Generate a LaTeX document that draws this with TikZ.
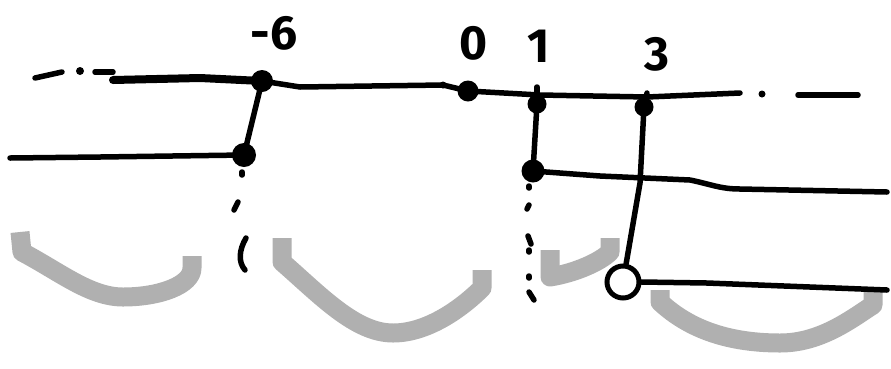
\documentclass[tikz,border=0pt]{standalone}
\usepackage{fontspec}
\setmainfont{Fira Sans}
\definecolor{hlgray}{HTML}{B0B0B0}
\begin{document}
\begin{tikzpicture}[x=1pt,y=-1pt,
  ink/.style={line width=5.5pt, line cap=round, line join=round},
  hl/.style={line width=19pt, color=hlgray, line cap=butt, line join=round},
  fdot/.style={circle, fill=black, inner sep=0pt, minimum size=#1},
  odot/.style={circle, draw=black, line width=5pt, fill=white, inner sep=0pt, minimum size=#1},
  lbl/.style={font=\fontsize{48}{48}\selectfont\bfseries, inner sep=0pt}]
\useasboundingbox[fill=white] (0,0) rectangle (891,368);

% gray highlight curves
\draw[hl] (20,232) -- (22,252) .. controls (60,272) and (90,297) .. (123,297)
  .. controls (160,297) and (192,285) .. (192,268) -- (192,256);
\draw[hl] (282,238) -- (282,262) .. controls (320,295) and (355,333) .. (393,333)
  .. controls (430,333) and (465,305) .. (482,288) -- (482,270);
\draw[hl] (550,250) -- (550,277) .. controls (575,273) and (600,262) .. (610,252) -- (610,238);
\draw[hl] (660,290) -- (660,302) .. controls (690,330) and (730,343) .. (780,343)
  .. controls (820,343) and (850,320) .. (873,305) -- (873,292);

% nodes
\node[fdot=22] (n6) at (262,81) {};
\node[fdot=24] (n6b) at (244,155) {};
\node[fdot=21] (n0) at (468,91) {};
\node[fdot=19] (n1) at (537,104) {};
\node[fdot=23] (n1b) at (533,171) {};
\node[fdot=19] (n3) at (644,107) {};
\node[odot=32] (n3b) at (623,282) {};
\node[fdot=7] (sd) at (443,85) {};
\node[fdot=7] (rd) at (762,94) {};

% labels
\node[lbl] (l6) at (274,33) {-6};
\node[lbl] (l0) at (474,43) {0};
\node[lbl] (l1) at (539,46) {1};
\node[lbl] (l3) at (657,54) {3};

% top line
\draw[ink] (35,78) -- (62,72);
\fill (80,71) circle (4);
\draw[ink] (95,72) -- (113,72);
\draw[ink, line width=8pt] (113,80) -- (200,78) -- (n6.center);
\draw[ink] (n6.center) -- (300,87) -- (sd.center) -- (n0.center);
\draw[ink] (n0.center) -- (540,95) -- (647,97) -- (740,93);
\draw[ink] (798,95) -- (858,95);
\draw[ink] (537,87) -- (537,100);
\draw[ink] (647,93) -- (n3.center);

% left branch
\draw[ink] (n6.center) -- (n6b.center);
\draw[ink] (10,158) -- (100,157) -- (n6b.center);
\draw[ink] (242,172) -- (242,175);
\draw[ink] (234,210) -- (238,202);
\draw[ink] (246,238) .. controls (239,250) and (238,262) .. (245,270);

% branch at 1
\draw[ink] (n1.center) -- (n1b.center);
\draw[ink] (n1b.center) -- (600,176) -- (690,180) .. controls (710,184) and (720,189) .. (740,189) -- (887,192);
\draw[ink] (529,186) -- (529,188);
\draw[ink] (527,209) -- (529,205);
\draw[ink] (528,236) -- (531,244);
\draw[ink] (529,250) -- (529,252);
\draw[ink] (529,276) -- (529,278);
\draw[ink] (529,292) -- (534,300);

% branch at 3
\draw[ink] (n3.center) -- (640,183) -- (n3b);
\draw[ink] (n3b.east) -- (707,283) -- (887,290);
\end{tikzpicture}
\end{document}
